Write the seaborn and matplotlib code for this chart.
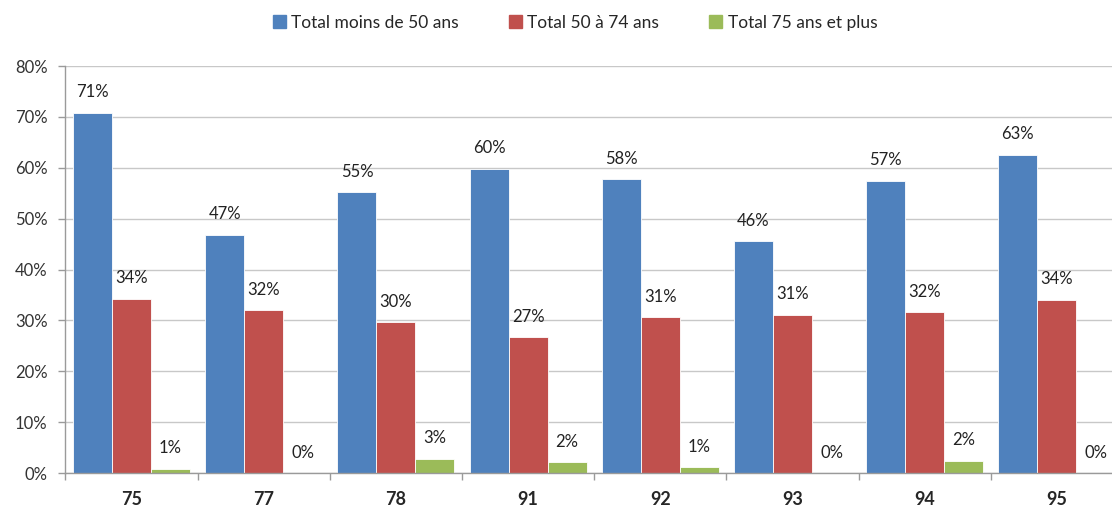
import matplotlib
matplotlib.use("Agg")
import matplotlib.pyplot as plt
import seaborn as sns
import pandas as pd
from matplotlib.ticker import FixedLocator, FuncFormatter

departements = ["75", "77", "78", "91", "92", "93", "94", "95"]
series_names = ["Total moins de 50 ans", "Total 50 à 74 ans", "Total 75 ans et plus"]
moins_50 = [70.8, 46.8, 55.2, 59.8, 57.7, 45.6, 57.4, 62.6]
de_50_a_74 = [34.3, 32.0, 29.6, 26.7, 30.6, 31.1, 31.6, 34.1]
plus_75 = [0.8, 0.0, 2.8, 2.1, 1.1, 0.0, 2.4, 0.0]
colors = ["#4F81BD", "#C0504D", "#9BBB59"]

df = pd.DataFrame({
    "dep": departements * 3,
    "serie": [s for s in series_names for _ in departements],
    "val": moins_50 + de_50_a_74 + plus_75,
})

sns.set_theme(style="white")
plt.rcParams["font.family"] = ["Lato", "DejaVu Sans"]

fig = plt.figure(figsize=(11.12, 5.09), dpi=100)
ax = fig.add_axes([0.0589, 0.0707, 0.951, 0.7996])

sns.barplot(data=df, x="dep", y="val", hue="serie", order=departements,
            hue_order=series_names, palette=colors, width=0.885,
            edgecolor="white", linewidth=0.6, saturation=1, ax=ax)

ax.set_xlim(-0.5, 7.5)
ax.set_ylim(0, 80)
ax.set_xlabel("")
ax.set_ylabel("")

# grid and axes
ax.yaxis.set_major_locator(FixedLocator(range(0, 81, 10)))
ax.yaxis.set_major_formatter(FuncFormatter(lambda v, p: f"{v:.0f}%"))
ax.grid(axis="y", color="#C8C8C8", linewidth=1.0)
ax.set_axisbelow(True)
for side in ["top", "right"]:
    ax.spines[side].set_visible(False)
for side in ["left", "bottom"]:
    ax.spines[side].set_color("#9A9A9A")
    ax.spines[side].set_linewidth(1.0)

ax.tick_params(axis="y", which="major", left=True, length=5, width=1,
               color="#9A9A9A", pad=8, labelsize=12, labelcolor="#333333")
ax.tick_params(axis="x", which="major", length=0, pad=13, labelsize=13)
for lab in ax.get_xticklabels():
    lab.set_fontweight("bold")
ax.xaxis.set_minor_locator(FixedLocator([i - 0.5 for i in range(9)]))
ax.tick_params(axis="x", which="minor", bottom=True, length=5, width=1,
               color="#9A9A9A")

# value labels above each bar
for cont in ax.containers:
    for bar in cont:
        h = bar.get_height()
        ax.annotate(f"{h:.0f}%", (bar.get_x() + bar.get_width() / 2, h),
                    xytext=(0, 9), textcoords="offset points",
                    ha="center", va="bottom", fontsize=12, color="#222222")

ax.legend_.remove()
handles = [plt.Rectangle((0, 0), 1, 1, color=c) for c in colors]
fig.legend(handles, series_names, loc="center", bbox_to_anchor=(0.517, 0.955),
           ncol=3, frameon=False, fontsize=12.5, handlelength=0.75,
           handleheight=0.75, handletextpad=0.3, columnspacing=2.9)

fig.savefig("out.png", dpi=100)
